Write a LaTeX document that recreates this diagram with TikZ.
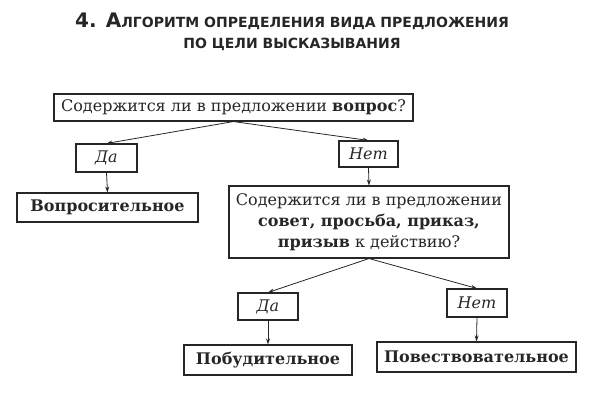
\documentclass[tikz,border=0pt]{standalone}
\usepackage{fontspec}
\setmainfont{DejaVu Serif}
\newfontfamily\titlefont{DejaVu Sans}
\usetikzlibrary{arrows.meta}
\definecolor{ink}{HTML}{262626}

\begin{document}
\begin{tikzpicture}[x=1pt,y=-1pt,font=\fontsize{16}{21}\selectfont,
   box/.style={draw=ink,line width=1.1pt,text=ink,inner sep=2pt,minimum height=27pt,align=center},
   ans/.style={box,font=\fontsize{16}{21}\selectfont\itshape},
   res/.style={box,font=\fontsize{16}{21}\selectfont\bfseries},
   head/.style={text=ink,inner sep=0pt,font=\titlefont\bfseries},
   link/.style={-{Stealth[length=6pt,width=4pt]},line width=0.8pt,ink}]
  \useasboundingbox (0,0) rectangle (598,416);
  \node[head] (t1) at (292,21) {\fontsize{20}{22}\selectfont 4. А\fontsize{14}{22}\selectfont ЛГОРИТМ ОПРЕДЕЛЕНИЯ ВИДА ПРЕДЛОЖЕНИЯ};
  \node[head] (t2) at (292,44) {\fontsize{14}{22}\selectfont ПО ЦЕЛИ ВЫСКАЗЫВАНИЯ};
  \node[box,minimum width=359pt] (q1) at (233.5,107.5) {Содержится ли в предложении \textbf{вопрос}?};
  \node[ans,minimum width=61pt,minimum height=28pt] (da1) at (106.5,158) {Да};
  \node[ans,minimum width=59pt,minimum height=26pt] (net1) at (368.5,154) {Нет};
  \node[res,minimum width=181pt,minimum height=29pt] (vopr) at (107.5,207.5) {Вопросительное};
  \node[box,minimum width=280pt,minimum height=72pt] (q2) at (369,222)
       {Содержится ли в предложении\\ \textbf{совет, просьба, приказ,}\\ \textbf{призыв} к действию?};
  \node[ans,minimum width=60pt] (da2) at (268,306.5) {Да};
  \node[ans,minimum width=60pt,minimum height=28pt] (net2) at (477,303) {Нет};
  \node[res,minimum width=168pt,minimum height=30pt] (pob) at (268,360) {Побудительное};
  \node[res,minimum width=199pt,minimum height=30pt] (pov) at (476.5,357) {Повествовательное};
  \foreach \a/\b in {q1/da1,q1/net1,da1/vopr,net1/q2,q2/da2,q2/net2,da2/pob,net2/pov}
    \draw[link] (\a.south) -- (\b.north);
\end{tikzpicture}
\end{document}
